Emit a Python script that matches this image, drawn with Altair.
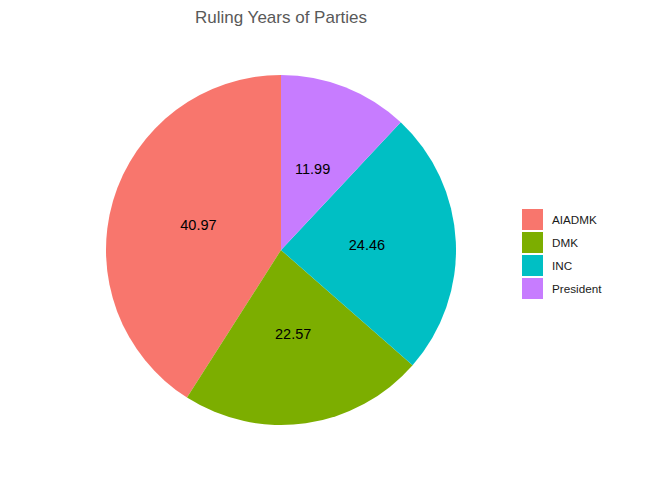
import altair as alt
import pandas as pd

parties = ["AIADMK", "DMK", "INC", "President"]
years_pct = [40.97, 22.57, 24.46, 11.99]
colors = ["#F8766D", "#7CAE00", "#00BFC4", "#C77CFF"]

df = pd.DataFrame({"party": parties, "value": years_pct})

base = alt.Chart(df).encode(
    theta=alt.Theta("value:Q", stack=True),
    order=alt.Order("party:N", sort="descending"),
)

arcs = base.mark_arc(outerRadius=175).encode(
    color=alt.Color(
        "party:N",
        scale=alt.Scale(domain=parties, range=colors),
        legend=alt.Legend(
            title=None,
            orient="none",
            legendX=416,
            legendY=134,
            symbolType="square",
            symbolSize=441,
            symbolStrokeWidth=0,
            rowPadding=2,
            labelOffset=9,
            labelFont="Liberation Sans",
            labelFontSize=11.7,
            labelColor="#1a1a1a",
            padding=0,
        ),
    )
)

labels = base.mark_text(radius=86, font="Liberation Sans", fontSize=14.5, color="#000000").encode(
    text=alt.Text("value:Q", format=".2f")
)

chart = (
    (arcs + labels)
    .properties(
        width=350,
        height=350,
        padding={"left": 98, "top": 67, "right": 208, "bottom": 47},
        autosize=alt.AutoSizeParams(type="none"),
        title=alt.Title(
            "Ruling Years of Parties",
            font="Liberation Sans",
            fontSize=17,
            fontWeight="normal",
            color="#595959",
            anchor="middle",
            offset=48,
        ),
    )
    .configure_view(stroke=None)
    .configure(background="white")
)

chart.save("out.html", embed_options={"renderer": "svg", "actions": False})
